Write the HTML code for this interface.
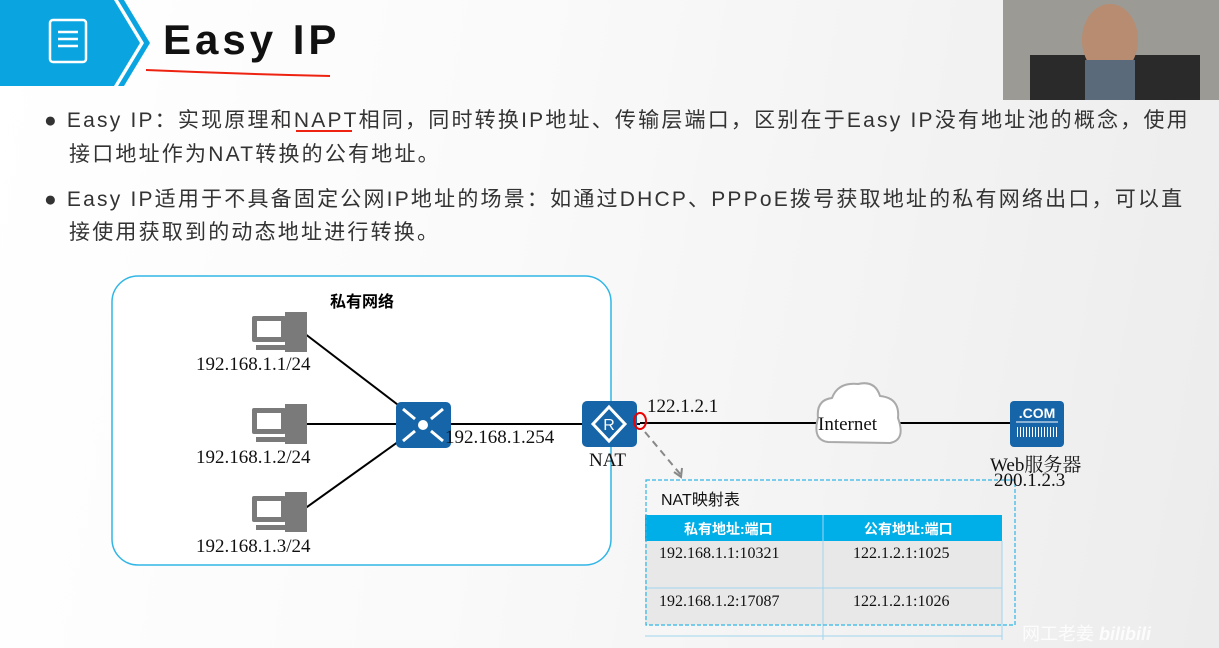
<!DOCTYPE html>
<html><head><meta charset="utf-8"><style>
body{margin:0;width:1219px;height:648px;overflow:hidden;position:relative;font-family:"Liberation Sans","Noto Sans CJK SC",sans-serif;background:linear-gradient(100deg,#fff 0%,#fafafa 40%,#ececec 100%);}
.t{position:absolute;white-space:nowrap}
.b{font-size:21px;color:#333;letter-spacing:2.2px}
.s{font-family:"Liberation Serif","Noto Serif CJK SC",serif;font-size:19px;color:#111}
</style></head><body>
<svg width="1219" height="648" style="position:absolute;left:0;top:0">
<polygon points="0,0 114,0 140,43 114,86 0,86" fill="#0aa5e0"/>
<polygon points="118,0 124,0 150,43 124,86 118,86 144,43" fill="#0aa5e0"/>
<rect x="50" y="20" width="36" height="42" rx="3" fill="none" stroke="#fff" stroke-width="2.5"/>
<line x1="58" y1="32" x2="78" y2="32" stroke="#fff" stroke-width="2.5"/><line x1="58" y1="39" x2="78" y2="39" stroke="#fff" stroke-width="2.5"/><line x1="58" y1="46" x2="78" y2="46" stroke="#fff" stroke-width="2.5"/>
<path d="M146,70 Q240,74 330,76" stroke="#e21" stroke-width="2" fill="none"/>
<path d="M296,131 L352,131" stroke="#e21" stroke-width="2"/>
<rect x="1003" y="0" width="216" height="100" fill="#9c9a94"/>
<rect x="1030" y="55" width="170" height="45" fill="#2a2a2a"/>
<ellipse cx="1110" cy="40" rx="28" ry="36" fill="#b88c70"/>
<rect x="1085" y="60" width="50" height="40" fill="#5a6a7a"/>
<rect x="112" y="276" width="499" height="289" rx="26" fill="#fff" stroke="#31b6e6" stroke-width="1.5"/>
<line x1="300" y1="330" x2="423" y2="424" stroke="#000" stroke-width="2"/>
<line x1="300" y1="424" x2="640" y2="424" stroke="#000" stroke-width="2"/>
<line x1="300" y1="512" x2="423" y2="424" stroke="#000" stroke-width="2"/>
<line x1="640" y1="423" x2="1012" y2="423" stroke="#000" stroke-width="2"/>
<g fill="#7a7a7a">
<g id="pc"><rect x="252" y="316" width="34" height="26" rx="2"/><rect x="257" y="321" width="24" height="16" fill="#fff"/><rect x="285" y="312" width="22" height="40"/><rect x="256" y="345" width="30" height="5"/></g>
<use href="#pc" y="92"/><use href="#pc" y="180"/>
</g>
<rect x="396" y="402" width="55" height="46" rx="5" fill="#1565a8"/>
<circle cx="423" cy="425" r="5" fill="#fff"/>
<g stroke="#fff" stroke-width="3"><line x1="403" y1="409" x2="415" y2="419"/><line x1="443" y1="409" x2="431" y2="419"/><line x1="403" y1="441" x2="415" y2="431"/><line x1="443" y1="441" x2="431" y2="431"/></g>
<rect x="582" y="401" width="55" height="46" rx="5" fill="#1565a8"/>
<polygon points="609,407 625,424 609,441 593,424" fill="none" stroke="#fff" stroke-width="3"/>
<text x="609" y="430" fill="#fff" font-size="16" text-anchor="middle" font-family="Liberation Sans">R</text>
<ellipse cx="640" cy="421" rx="6" ry="8" fill="none" stroke="#e00" stroke-width="2"/>
<line x1="645" y1="432" x2="681" y2="475" stroke="#888" stroke-width="2" stroke-dasharray="7,5"/>
<path d="M674,472 L681,477 L682,468" stroke="#888" stroke-width="2" fill="none"/>
<path d="M828,442 Q812,440 818,418 Q816,400 832,398 Q838,382 858,384 Q875,380 880,396 Q900,398 898,418 Q906,440 890,443 Z" fill="#fff" stroke="#aaa" stroke-width="2"/>
<rect x="1010" y="401" width="54" height="46" rx="4" fill="#1565a8"/>
<text x="1037" y="418" fill="#fff" font-size="14" font-weight="bold" text-anchor="middle" font-family="Liberation Sans">.COM</text>
<line x1="1016" y1="422" x2="1058" y2="422" stroke="#fff"/>
<line x1="1017" y1="432" x2="1057" y2="432" stroke="#fff" stroke-width="10" stroke-dasharray="1,2"/>
<rect x="645" y="515" width="357" height="110" fill="#e8e8e8"/>
<rect x="645" y="515" width="357" height="26" fill="#00aee8"/>
<g stroke="#9fd6ee" stroke-width="1"><line x1="823" y1="515" x2="823" y2="640"/><line x1="645" y1="588" x2="1002" y2="588"/><line x1="645" y1="636" x2="1002" y2="636"/><line x1="1002" y1="541" x2="1002" y2="640"/></g>
<rect x="646" y="480" width="369" height="145" fill="none" stroke="#31b6e6" stroke-width="1.2" stroke-dasharray="4,2"/>
</svg>
<div class="t" style="left:163px;top:16px;font-size:42px;font-weight:bold;letter-spacing:4px;color:#111">Easy IP</div>
<div class="t b" style="left:44px;top:104px">●&nbsp;Easy IP：实现原理和NAPT相同，同时转换IP地址、传输层端口，区别在于Easy IP没有地址池的概念，使用</div>
<div class="t b" style="left:69px;top:138px">接口地址作为NAT转换的公有地址。</div>
<div class="t b" style="left:44px;top:183px">●&nbsp;Easy IP适用于不具备固定公网IP地址的场景：如通过DHCP、PPPoE拨号获取地址的私有网络出口，可以直</div>
<div class="t b" style="left:69px;top:216px">接使用获取到的动态地址进行转换。</div>
<div class="t" style="left:330px;top:288px;font-size:16px;font-weight:bold">私有网络</div>
<div class="t s" style="left:196px;top:354px">192.168.1.1/24</div>
<div class="t s" style="left:196px;top:447px">192.168.1.2/24</div>
<div class="t s" style="left:196px;top:536px">192.168.1.3/24</div>
<div class="t s" style="left:445px;top:427px">192.168.1.254</div>
<div class="t s" style="left:589px;top:450px">NAT</div>
<div class="t s" style="left:647px;top:396px">122.1.2.1</div>
<div class="t s" style="left:818px;top:414px">Internet</div>
<div class="t s" style="left:990px;top:450px">Web服务器</div>
<div class="t s" style="left:994px;top:470px">200.1.2.3</div>
<div class="t" style="left:661px;top:486px;font-size:16px;color:#111">NAT映射表</div>
<div class="t" style="left:684px;top:519px;font-size:14px;font-weight:bold;color:#fff">私有地址:端口</div>
<div class="t" style="left:864px;top:519px;font-size:14px;font-weight:bold;color:#fff">公有地址:端口</div>
<div class="t s" style="left:659px;top:545px;font-size:16px">192.168.1.1:10321</div>
<div class="t s" style="left:853px;top:545px;font-size:16px">122.1.2.1:1025</div>
<div class="t s" style="left:659px;top:593px;font-size:16px">192.168.1.2:17087</div>
<div class="t s" style="left:853px;top:593px;font-size:16px">122.1.2.1:1026</div>
<div class="t" style="left:1022px;top:620px;font-size:18px;color:#fff;opacity:.85">网工老姜 <b style="font-style:italic">bilibili</b></div>
</body></html>
